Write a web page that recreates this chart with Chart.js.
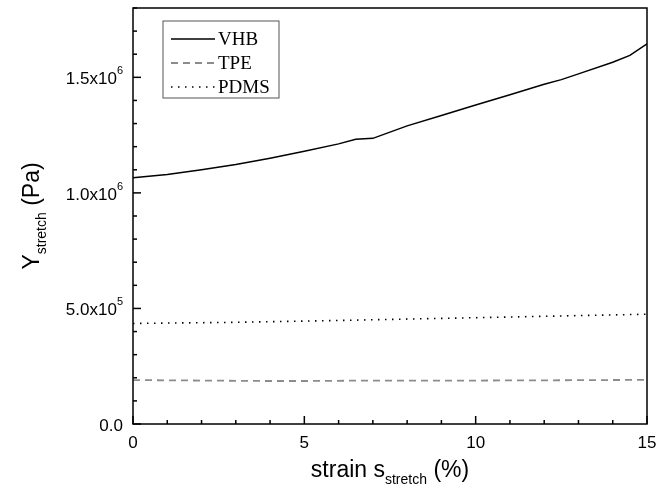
<!DOCTYPE html>
<html>
<head>
<meta charset="utf-8">
<script src="https://cdn.jsdelivr.net/npm/chart.js@4"></script>
<style>
  html, body { margin: 0; padding: 0; background: #fff; }
  #wrap { width: 668px; height: 491px; }
</style>
</head>
<body>
<div id="wrap"><canvas id="modulusChart" width="668" height="491"></canvas></div>
<script>
// strain (%) and Y_stretch (Pa)
const vhbStrain = [0, 1, 2, 3, 4, 5, 6, 6.5, 7, 8, 9, 10, 11, 12, 12.5, 13, 14, 14.5, 15];
const vhbY = [1.065e6, 1.08e6, 1.1e6, 1.123e6, 1.15e6, 1.18e6, 1.212e6, 1.232e6, 1.236e6, 1.29e6, 1.335e6, 1.38e6, 1.425e6, 1.47e6, 1.49e6, 1.515e6, 1.565e6, 1.595e6, 1.645e6];
const tpeStrain = [0, 2, 4, 5, 7, 10, 12, 15];
const tpeY = [1.9e5, 1.88e5, 1.86e5, 1.86e5, 1.88e5, 1.88e5, 1.89e5, 1.91e5];
const pdmsStrain = [0, 3, 6, 9, 12, 15];
const pdmsY = [4.35e5, 4.4e5, 4.48e5, 4.57e5, 4.66e5, 4.75e5];

const xTicks = [0, 5, 10, 15];
const yTicks = [0, 5e5, 1e6, 1.5e6];
const yTickLabels = [['0.0', ''], ['5.0x10', '5'], ['1.0x10', '6'], ['1.5x10', '6']];
const seriesNames = ['VHB', 'TPE', 'PDMS'];

function toPoints(xs, ys) {
  return xs.map((x, i) => ({ x: x, y: ys[i] }));
}

// frame, inward ticks, labels, titles and inner legend
const decorPlugin = {
  id: 'decor',
  afterDraw(chart) {
    const ctx = chart.ctx;
    const a = chart.chartArea;
    const xs = chart.scales.x;
    const ys = chart.scales.y;
    ctx.save();
    ctx.strokeStyle = '#000';
    ctx.fillStyle = '#000';
    ctx.lineWidth = 1.5;
    ctx.setLineDash([]);
    ctx.strokeRect(a.left, a.top, a.right - a.left, a.bottom - a.top);

    // x ticks
    for (let v = 0; v <= 15; v++) {
      const px = xs.getPixelForValue(v);
      const len = v % 5 === 0 ? 8 : 4;
      ctx.beginPath();
      ctx.moveTo(px, a.bottom);
      ctx.lineTo(px, a.bottom - len);
      ctx.stroke();
    }
    // y ticks
    for (let v = 0; v <= 1.8e6; v += 1e5) {
      const py = ys.getPixelForValue(v);
      const major = Math.round(v / 1e5) % 5 === 0;
      ctx.beginPath();
      ctx.moveTo(a.left, py);
      ctx.lineTo(a.left + (major ? 8 : 4), py);
      ctx.stroke();
    }

    ctx.font = '17px "Liberation Sans", Arial, sans-serif';
    ctx.textBaseline = 'middle';
    ctx.textAlign = 'center';
    xTicks.forEach(v => {
      ctx.fillText(String(v), xs.getPixelForValue(v), a.bottom + 19);
    });

    yTicks.forEach((v, i) => {
      const py = ys.getPixelForValue(v);
      const base = yTickLabels[i][0];
      const sup = yTickLabels[i][1];
      ctx.font = '11px "Liberation Sans", Arial, sans-serif';
      const supW = sup ? ctx.measureText(sup).width : 0;
      ctx.font = '17px "Liberation Sans", Arial, sans-serif';
      const baseW = ctx.measureText(base).width;
      const right = a.left - 10;
      ctx.textAlign = 'left';
      ctx.fillText(base, right - supW - baseW, py + 2);
      if (sup) {
        ctx.font = '11px "Liberation Sans", Arial, sans-serif';
        ctx.fillText(sup, right - supW, py - 6);
      }
    });

    // x title
    const drawSubTitle = (parts) => {
      let total = 0;
      parts.forEach(p => { ctx.font = p.font; total += ctx.measureText(p.t).width; });
      return total;
    };
    const big = '23px "Liberation Sans", Arial, sans-serif';
    const small = '14px "Liberation Sans", Arial, sans-serif';
    const xParts = [
      { t: 'strain s', font: big, dy: 0 },
      { t: 'stretch', font: small, dy: 9 },
      { t: ' (%)', font: big, dy: 0 }
    ];
    const xw = drawSubTitle(xParts);
    let cx = (a.left + a.right) / 2 - xw / 2;
    ctx.textAlign = 'left';
    xParts.forEach(p => {
      ctx.font = p.font;
      ctx.fillText(p.t, cx, a.bottom + 47 + p.dy);
      cx += ctx.measureText(p.t).width;
    });

    // y title (rotated)
    const yParts = [
      { t: 'Y', font: big, dy: 0 },
      { t: 'stretch', font: small, dy: 9 },
      { t: ' (Pa)', font: big, dy: 0 }
    ];
    const yw = drawSubTitle(yParts);
    ctx.save();
    ctx.translate(33, (a.top + a.bottom) / 2);
    ctx.rotate(-Math.PI / 2);
    let cy = -yw / 2;
    yParts.forEach(p => {
      ctx.font = p.font;
      ctx.fillText(p.t, cy, p.dy);
      cy += ctx.measureText(p.t).width;
    });
    ctx.restore();

    // legend box
    const lx = 163, ly = 21, lw = 116, lh = 77;
    ctx.lineWidth = 1;
    ctx.strokeStyle = '#555';
    ctx.strokeRect(lx, ly, lw, lh);
    ctx.font = '19px "Liberation Serif", "Times New Roman", serif';
    chart.data.datasets.forEach((ds, i) => {
      const yy = ly + 18 + i * 24;
      ctx.strokeStyle = ds.borderColor;
      ctx.lineWidth = ds.borderWidth;
      ctx.setLineDash(ds.borderDash || []);
      ctx.beginPath();
      ctx.moveTo(lx + 8, yy);
      ctx.lineTo(lx + 52, yy);
      ctx.stroke();
      ctx.fillStyle = '#000';
      ctx.fillText(ds.label, lx + 55, yy + 1);
    });
    ctx.restore();
  }
};

new Chart(document.getElementById('modulusChart').getContext('2d'), {
  type: 'line',
  data: {
    datasets: [{
      label: seriesNames[0],
      data: toPoints(vhbStrain, vhbY),
      borderColor: '#000',
      borderWidth: 1.5,
      pointRadius: 0,
      tension: 0
    }, {
      label: seriesNames[1],
      data: toPoints(tpeStrain, tpeY),
      borderColor: '#8c8c8c',
      borderWidth: 1.8,
      borderDash: [7, 5],
      pointRadius: 0,
      tension: 0
    }, {
      label: seriesNames[2],
      data: toPoints(pdmsStrain, pdmsY),
      borderColor: '#000',
      borderWidth: 1.6,
      borderDash: [1.5, 5.5],
      pointRadius: 0,
      tension: 0
    }]
  },
  options: {
    responsive: false,
    animation: false,
    layout: { padding: { left: 133, right: 21, top: 8, bottom: 67 } },
    plugins: { legend: { display: false }, tooltip: { enabled: false } },
    scales: {
      x: { type: 'linear', min: 0, max: 15, display: false },
      y: { type: 'linear', min: 0, max: 1.8e6, display: false }
    }
  },
  plugins: [decorPlugin]
});
</script>
</body>
</html>
